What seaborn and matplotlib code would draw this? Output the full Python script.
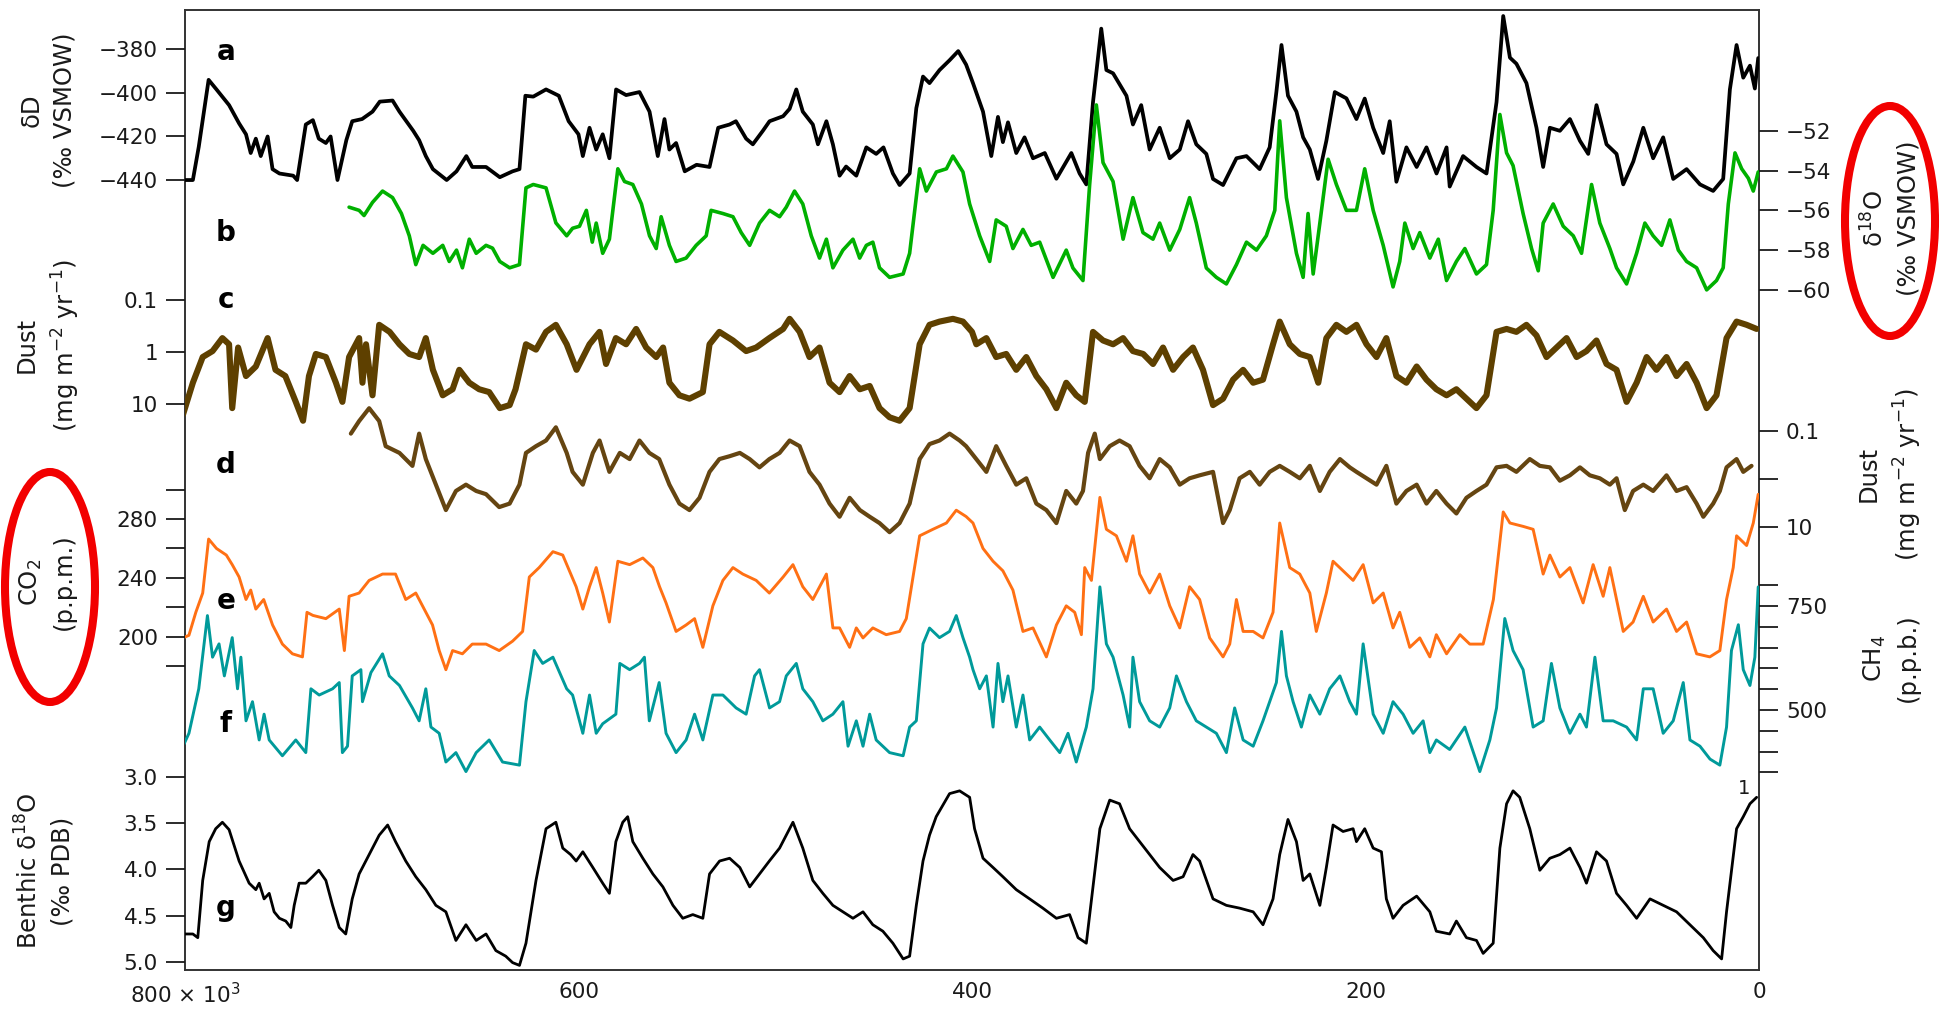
import matplotlib
matplotlib.use("Agg")
import matplotlib.pyplot as plt
from matplotlib.patches import Ellipse
from matplotlib.ticker import NullLocator
import pandas as pd
import seaborn as sns

# ---------------- data (age in kyr before present) ----------------
# a: EPICA Dome C deuterium (per mil VSMOW)
dD_age = [800, 796, 793, 788, 784, 777.6, 772.5, 769, 766.6, 764, 761.5, 758, 755.5, 752, 745, 743,
          738.6, 735, 732, 728.4, 726, 722.5, 718, 715, 710, 704.7, 701, 694.5, 691, 684, 681, 677.6,
          674, 667, 662, 657, 654, 647, 640, 633.5, 630, 627, 623, 616.5, 610, 605, 600, 597.8, 594.4,
          591, 587.7, 584.3, 580.9, 575.8, 569, 563.9, 559.7, 556.3, 553.8, 550.4, 546, 540, 533.4, 529,
          523.2, 520, 514.8, 511.4, 506.3, 502.9, 496, 492.7, 489.3, 486, 480.9, 478.3, 474, 470.7,
          467.3, 464, 458.8, 453.7, 448.7, 445, 440.2, 436.8, 431.7, 428.3, 424.9, 421.6, 416.5, 411.4,
          407, 403, 399.5, 394.4, 390.2, 386.8, 384.3, 381.7, 377.5, 373.3, 369, 363, 357.1, 349.5,
          345.3, 341.9, 338.5, 334.3, 331.7, 328.3, 321.5, 318.2, 314, 309.7, 304.6, 299.5, 294.4,
          290.2, 286, 280.9, 277.5, 272.4, 265.6, 260.5, 253.8, 248.7, 245.3, 242.7, 239.4, 235.1,
          231.7, 228.3, 224.1, 219.9, 215.6, 209.7, 204.6, 200.4, 196.1, 191, 187.7, 184.3, 179.2, 174,
          169, 163.9, 158.8, 157.2, 150.4, 143.6, 138.5, 133.4, 130, 126.6, 123.3, 118.2, 113.1, 109.7,
          106.3, 101.2, 96.1, 91, 86.8, 82.6, 77.5, 72.4, 69, 63.9, 58.8, 53.8, 48.7, 43.6, 36.8, 30,
          23.3, 18.2, 14.8, 11.4, 8, 4.6, 2.1, 0.4]
dD = [-440, -440, -424.7, -394, -398.4, -405.6, -414, -419, -427.6, -421, -429, -420, -435, -437, -438, -440,
      -414.5, -412.5, -421, -423, -420, -440, -421.7, -413, -412, -408.6, -404, -403.5, -408.6, -417.4, -421.7, -429,
      -435, -440, -436, -429, -434, -434, -438.7, -436, -435, -401.3, -401.7, -398.4, -401.3, -413, -419, -429, -416,
      -426, -419, -430, -398.4, -401, -399.6, -408.6, -429, -412, -426, -423, -436, -433, -434, -416,
      -414.5, -413, -421, -423.6, -417.4, -413, -410.7, -407.3, -398.4, -408.6, -414.5, -423.6, -413, -423.6,
      -438, -433.8, -438, -425, -428, -425, -437, -442.3, -437, -407, -392.5, -395.5, -389.5, -385,
      -380.8, -387, -395.5, -408.6, -429, -411, -422.6, -413.5, -427.6, -420.4, -430, -427.6, -439.4, -427.6,
      -437, -442, -404.2, -370.5, -389.5, -391, -401.3, -414.5, -405.6, -426, -416, -430, -426,
      -413, -423.6, -428, -439.5, -442.3, -430, -429, -435, -425, -399.6, -378, -401.3, -408.6,
      -420.4, -426, -439.5, -422, -399.6, -402.5, -412, -402.6, -416, -427.6, -413, -440.8, -425, -434,
      -425, -437, -425, -443, -429, -434, -437, -404.2, -364.7, -383.8, -386.6, -395.5, -416, -434,
      -416, -417.4, -412, -422, -428, -405.6, -423.6, -428, -442, -431.5, -416, -430, -420.4, -439.5, -435, -442,
      -445, -439.5, -398.4, -378, -393, -387.5, -398, -384]

# b: EPICA Dome C oxygen isotopes (per mil VSMOW)
d18O_age = [716.6, 711.5, 709, 704.7, 699.6, 694.5, 690, 686, 682.7, 679, 674, 669, 665.7, 662, 659, 655.5,
            652, 647, 643.7, 640, 635, 630, 626.7, 623, 616.5, 611.5, 606, 603, 599.5, 596, 593, 591, 587.7,
            584.3, 580, 576.6, 572.4, 568, 563.9, 560.5, 558, 553.8, 550.4, 545.3, 540.2, 535.1, 532.6, 526.6,
            521.5, 517.3, 513, 508, 502.9, 497.8, 494.4, 490.2, 486, 481.7, 477.5, 474, 470.7, 465.6, 460.5,
            457.1, 453.7, 450.4, 447, 441.9, 435, 431.7, 426.6, 423.2, 418.1, 413, 409.7, 404.6, 401.2, 396.1,
            391, 387.7, 382.6, 379.2, 374.1, 369.9, 365.6, 358.8, 352.1, 348.7, 343.6, 340.2, 336.8, 333.4,
            328.3, 323.2, 318.2, 313.1, 308, 304.6, 299.5, 294.4, 289.4, 286, 280.9, 275.8, 270.7, 265.6,
            260.5, 255.4, 250.4, 246.1, 243.6, 240.2, 235.1, 231.7, 229.2, 226.6, 223.2, 219, 214.8, 209.7,
            204.6, 200.4, 196.1, 191, 186, 182.6, 180, 175.8, 172.4, 167.3, 163, 158.8, 153.8, 149.5, 143.6,
            138.5, 135.1, 131.7, 128.3, 125, 119.9, 115.6, 112.2, 109.7, 104.6, 99.5, 94.4, 90.2, 85.1, 80.9,
            75.8, 72.4, 67.3, 62.2, 58, 53.8, 49.5, 45.3, 41, 36.8, 31.7, 26.6, 21.6, 18.2, 15.6, 12.2, 8.8,
            5.4, 2.9, 0.4]
d18O = [-55.84, -56.0, -56.26, -55.6, -55.03, -55.36, -56.16, -57.28, -58.73, -57.76, -58.16, -57.76, -58.57, -58.0, -58.89, -57.45,
        -58.16, -57.76, -57.9, -58.57, -58.89, -58.73, -54.87, -54.7, -54.87, -56.63, -57.28, -56.9, -56.8, -56.0, -57.6, -56.64, -58.16,
        -57.45, -53.91, -54.55, -54.7, -55.68, -57.28, -57.92, -56.32, -57.76, -58.57, -58.4, -57.76, -57.28, -56.0, -56.16,
        -56.32, -57.12, -57.76, -56.64, -56.0, -56.32, -55.84, -55.03, -55.68, -57.28, -58.4, -57.45, -58.89, -58.0, -57.45,
        -58.4, -57.76, -57.6, -58.89, -59.37, -59.2, -58.16, -53.91, -55.03, -54.07, -53.91, -53.27, -54.07, -55.68, -57.28,
        -58.57, -56.48, -56.8, -57.92, -56.96, -57.76, -57.6, -59.37, -58.0, -58.9, -59.53, -54.7, -50.7, -53.6,
        -54.55, -57.45, -55.36, -57.12, -57.45, -56.64, -58.0, -56.96, -55.36, -56.64, -58.9, -59.37, -59.7, -58.73,
        -57.6, -58.0, -57.28, -56.0, -51.5, -55.36, -58.16, -59.37, -56.16, -59.2, -56.64, -53.43, -54.7, -56.0,
        -56.0, -53.91, -56.0, -57.76, -59.85, -58.57, -56.64, -57.92, -57.12, -58.4, -57.45, -59.53, -58.57, -57.92, -59.2,
        -58.73, -56.0, -51.18, -53.11, -53.75, -56.16, -57.92, -59.04, -56.64, -55.68, -56.8, -57.28, -58.16, -54.7, -56.64,
        -57.92, -58.89, -59.7, -58.16, -56.64, -57.28, -57.76, -56.48, -58.0, -58.57, -58.89, -60.0, -59.53, -58.89, -55.68, -53.11, -53.91,
        -54.39, -55.03, -54.07]

# c: dust flux, full record (mg m-2 yr-1)
dustc_age = [801, 796, 791, 786, 781, 777.6, 776, 773, 769, 764, 758, 754, 749, 743.7, 740, 737, 733.5,
             728.4, 723.3, 720, 716.6, 711.5, 709.8, 708, 704.7, 701.3, 696, 691, 686, 681, 677.6, 674, 669,
             664, 660.6, 655.5, 650.5, 645.4, 640, 635, 632, 626.7, 621.6, 616.5, 611.5, 606, 601, 594.4,
             589.3, 586, 581, 575.8, 570.7, 565.6, 560.5, 557, 553.8, 548.7, 543.6, 536.8, 533.4, 528.4,
             521.5, 514.8, 509.7, 503, 496, 492.7, 487.6, 482.6, 477.5, 472.4, 467.3, 462.2, 457, 452, 447,
             441.9, 436.8, 431.7, 426.6, 421.6, 416.5, 409.7, 404.6, 400, 397.8, 392.7, 387.7, 382.6, 377.5,
             372.4, 367.3, 362.2, 357.1, 352.1, 347, 342.7, 338.5, 333.4, 328.3, 323.2, 318.2, 313, 308,
             302.9, 297.8, 292.7, 287.7, 282.6, 277.5, 272.4, 267.3, 262.2, 257.1, 252.1, 247, 243.6, 238.5,
             233.4, 228.3, 224, 219.9, 214.8, 209.7, 204.6, 199.5, 194.4, 189.4, 184.3, 179.2, 174, 169,
             164, 158.8, 153.8, 148.7, 143.6, 138.5, 133.4, 128.3, 123.3, 118.2, 113.1, 108, 102.9, 97.8,
             92.7, 87.7, 82.6, 77.5, 72.4, 67.3, 62.2, 57.1, 52.1, 47, 41.9, 36.8, 31.7, 26.6, 21.6, 16.5,
             11.4, 6.3, 1.2]
dustc = [15.9, 3.9, 1.25, 0.96, 0.54, 0.71, 12, 0.82, 2.9, 1.9, 0.54, 2.2, 2.9, 9.1, 21, 2.9, 1.09,
         1.25, 3.9, 9.1, 1.25, 0.54, 3.9, 0.71, 6.8, 0.30, 0.41, 0.71, 1.09, 1.25, 0.54, 2.2, 6.8,
         5.2, 2.2, 3.9, 5.2, 5.9, 12, 10.5, 5.2, 0.71, 0.9, 0.41, 0.30, 0.71, 2.2, 0.71,
         0.41, 1.7, 0.54, 0.71, 0.36, 0.82, 1.25, 0.82, 3.9, 6.8, 7.9, 5.9, 0.71, 0.41,
         0.6, 0.96, 0.82, 0.54, 0.36, 0.23, 0.41, 1.25, 0.82, 3.9, 5.9, 2.9, 5.2, 4.5, 12,
         18, 21, 12, 0.71, 0.30, 0.26, 0.23, 0.26, 0.41, 0.71, 0.54, 1.25, 1.09, 2.2,
         1.25, 2.9, 5.2, 12, 3.9, 6.8, 9.1, 0.41, 0.6, 0.71, 0.54, 0.96, 1.09, 1.7,
         0.82, 2.2, 1.25, 0.82, 2.2, 10.5, 7.9, 3.4, 2.2, 3.9, 3.4, 0.71, 0.26, 0.71,
         1.09, 1.25, 3.9, 0.54, 0.30, 0.41, 0.30, 0.71, 1.25, 0.54, 2.9, 3.9, 1.9, 3.4,
         5.2, 6.8, 5.2, 7.9, 12, 6.8, 0.41, 0.36, 0.41, 0.30, 0.48, 1.25, 0.82, 0.54,
         1.25, 0.96, 0.6, 1.7, 2.2, 9.1, 3.9, 1.25, 2.2, 1.25, 2.9, 1.7, 3.9, 12, 6.8, 0.54,
         0.26, 0.30, 0.36]

# d: dust flux, second record (mg m-2 yr-1)
dustd_age = [715.7, 711.5, 706.4, 701.3, 698, 691, 684.4, 681, 677.6, 672.5, 667.4, 662.3, 657.2, 652, 647,
             640.3, 635, 630, 626.7, 621.6, 616.5, 611.5, 606, 603, 597.8, 592.7, 589.3, 584.3, 579, 574,
             569, 564, 559, 553.8, 548.7, 543.6, 538.5, 533.4, 528.4, 523.2, 518, 513, 508, 503, 497.8,
             492.7, 487.6, 482.6, 477.5, 472.4, 467.3, 462.2, 457, 452, 447, 441.9, 436.8, 431.7, 426.6,
             421.6, 416.5, 411.4, 406.3, 403, 397.8, 392.7, 387.7, 382.6, 377.5, 372.4, 367.3, 362.2, 357.1,
             352.1, 347, 343.6, 341, 337.6, 335, 330, 325, 319.9, 314.8, 309.7, 304.6, 299.5, 294.4, 289.4,
             284.3, 277.5, 272.4, 269, 264, 258.8, 253.8, 248.7, 243.6, 238.5, 233.4, 228.3, 223.2, 218.2,
             213, 208, 204.6, 199.5, 194.4, 189.4, 184.3, 179.2, 174, 169, 164, 158.8, 153.8, 148.7, 143.6,
             138.5, 133.4, 128.3, 123.3, 116.5, 111.4, 106.3, 101.2, 96.1, 91, 86, 80.9, 75.8, 72.4, 68.2,
             64, 58.8, 53.8, 47, 41.9, 36.8, 31.7, 28.3, 23.3, 19.9, 16.5, 11.4, 8, 3.8]
dustd = [0.115, 0.063, 0.034, 0.063, 0.21, 0.29, 0.54, 0.115, 0.39, 1.33, 4.5, 1.8, 1.33, 1.8, 2.1,
         3.9, 3.3, 1.33, 0.29, 0.21, 0.16, 0.085, 0.29, 0.72, 1.33, 0.29, 0.16, 0.72, 0.29, 0.39,
         0.16, 0.29, 0.39, 1.33, 3.3, 4.5, 2.5, 0.72, 0.39, 0.34, 0.29, 0.39, 0.58, 0.39, 0.29,
         0.16, 0.21, 0.72, 1.33, 3.3, 6.2, 2.5, 4.5, 6.2, 8.4, 13, 8.4, 3.3, 0.39,
         0.19, 0.16, 0.115, 0.16, 0.21, 0.39, 0.72, 0.21, 0.54, 1.33, 0.98, 3.3, 4.5, 8.4,
         1.8, 3.3, 1.8, 0.29, 0.115, 0.39, 0.21, 0.16, 0.21, 0.54, 0.98, 0.39, 0.58, 1.33, 0.98,
         0.85, 0.72, 8.4, 4.5, 0.98, 0.72, 1.33, 0.72, 0.54, 0.72, 0.98, 0.54, 1.8, 0.72,
         0.39, 0.58, 0.72, 0.98, 1.33, 0.54, 3.3, 1.8, 1.33, 3.3, 1.8, 3.3, 5.3, 2.5, 1.8,
         1.33, 0.58, 0.54, 0.72, 0.39, 0.54, 0.58, 1.1, 0.85, 0.58, 0.85, 0.98, 1.33, 0.98, 4.5,
         1.8, 1.33, 1.8, 0.85, 1.8, 1.5, 3.3, 6.2, 3.3, 1.8, 0.58, 0.39, 0.72, 0.54]

# e: CO2 (p.p.m.)
co2_age = [801, 798, 794.5, 791, 788, 784, 779, 776, 772.5, 769, 766.6, 764, 760, 755.5, 750.5, 745.4,
           740.3, 738, 735, 728.4, 721.6, 719, 716.6, 711.5, 706.4, 699.6, 693, 687.8, 682.7, 679.3, 674.2,
           670.8, 667.4, 664, 659, 654, 647, 640.3, 633.5, 628.4, 625, 620, 613, 608, 601.2, 597.8, 594.4,
           591, 587.7, 584.3, 580, 574, 567.3, 562.2, 558.8, 555.5, 550.4, 545.3, 541, 536.8, 531.7, 526.6,
           521.5, 516.5, 509.7, 503, 496, 491, 486, 480.9, 474, 470.7, 467.3, 462.2, 458.8, 455.4, 450.4,
           443.6, 436.8, 433.4, 430, 426.6, 419.9, 413, 408, 403, 399.5, 394.4, 389.3, 384.3, 379.2, 374.1,
           369, 362.2, 357.1, 352.1, 347.8, 344.4, 342.7, 339.3, 335, 331.7, 326.6, 321.5, 318.2, 314.8,
           309.7, 304.6, 299.5, 294.4, 289.4, 284.3, 279.2, 272.4, 269, 265.6, 262.2, 257.1, 252.1, 247,
           243.6, 238.5, 233.4, 228.3, 225, 219.9, 216.5, 211.4, 206.3, 201.2, 196.1, 191, 186, 182.6,
           177.5, 172.4, 167.3, 164, 158.8, 152, 147, 140.2, 135, 130, 126.6, 119.9, 114.8, 109.7, 106.3,
           101.2, 96.1, 89.4, 84.3, 79.2, 75.8, 69, 64, 58.8, 53.8, 47, 41.9, 36.8, 31.7, 25, 19.9, 16.5,
           13.1, 11.4, 6.3, 2.9, 0.4]
co2 = [199.2, 201, 216.6, 229.7, 266.4, 260, 255.5, 249, 240.6, 225.3, 231.7, 218.8, 225.3, 208, 195, 188.4,
       186.3, 216.6, 214.5, 212.3, 218.8, 190.6, 227.5, 229.7, 238.3, 242.6, 242.6, 225.3, 229.7, 221, 208,
       190.6, 177.6, 190.6, 188.4, 195, 195, 190.6, 197, 203.6, 240.6, 247, 257.8, 255.5, 234, 218.8, 234,
       247, 229.7, 210, 251.3, 249, 253.5, 247, 234, 223, 203.6, 208, 212.3, 192.8, 221, 238.3,
       247, 242.6, 238.3, 229.7, 240.6, 249, 234, 225.3, 242.6, 206, 206, 192.8, 206, 199.2, 206,
       201.4, 203.6, 212.3, 240.6, 268.6, 273, 277.3, 286, 281.7, 277.3, 260, 251.3, 244.8, 231.7, 203.6,
       206, 186.3, 208, 221, 216.6, 201.4, 247, 238.3, 294.7, 273, 268.6, 251.3, 268.6, 242.6,
       229.7, 242.6, 221, 206, 234, 225.3, 199.2, 186.3, 195, 225.3, 203.6, 203.6, 199.2, 216.6,
       277.3, 247, 242.6, 229.7, 203.6, 229.7, 251.3, 244.8, 238.3, 249, 223, 229.7, 206, 216.6,
       192.8, 199.2, 186.3, 201.4, 188.4, 201.4, 195, 195, 225.3, 284.8, 277.3, 275, 273, 242.6, 255.5,
       240.6, 247, 223, 249, 227.5, 247, 203.6, 210, 227.5, 210, 218.8, 203.6, 210, 188.4, 186.3, 190.6, 225.3,
       247, 268.6, 262, 277.3, 296.8]

# f: CH4 (p.p.b.)
ch4_age = [801, 798, 793, 788.6, 786, 782.7, 780, 776, 773.3, 771.6, 769, 765.7, 762.3, 759.8, 757.2, 750.5,
           743.7, 738.6, 736, 731.8, 725, 721.6, 720, 717.4, 715, 710.6, 709.8, 705.5, 699.6, 696.2, 691,
           684.4, 681, 677.6, 675, 670.8, 667.4, 662.3, 657.2, 652, 645.4, 638.6, 630, 626.7, 622.5, 618.2,
           613, 606, 603, 597.8, 594.4, 591, 587.7, 581, 579, 574, 569, 566.5, 564, 559, 555.5, 550.4,
           545.3, 541, 536.8, 531.7, 526.6, 519.9, 514.8, 510.5, 508, 502.9, 497.8, 494.4, 489.3, 486,
           480.9, 475.8, 470.7, 465.6, 463, 458.8, 455.4, 452, 448.7, 441.9, 435, 431.7, 428.3, 424.9,
           421.6, 416.5, 411.4, 408, 404.6, 401.2, 399.5, 396.1, 392.7, 389.3, 386.8, 384.3, 381.7, 377.5,
           374.1, 370.7, 365.6, 360.5, 355.4, 351.2, 347, 341.9, 338.5, 335, 331.7, 328.3, 323.2, 319.9,
           318.2, 314.8, 309.7, 304.6, 299.5, 296.1, 291, 286, 280.9, 275.8, 270.7, 266.5, 262.2, 257.1,
           252.1, 248.7, 245.3, 242.7, 240.2, 236.8, 232.6, 228.3, 223.2, 218.2, 213, 208, 204.6, 201.2,
           196.1, 191, 186, 180.9, 175.8, 170.7, 167.3, 164, 157.2, 149.5, 141.9, 136.8, 133.4, 129.2,
           125, 119.9, 114.8, 109.7, 105.5, 101.2, 96.1, 91, 87.7, 83.4, 79.2, 74.1, 67.3, 62.2, 58.8,
           53.8, 48.7, 43.6, 38.5, 35.1, 30, 24.9, 19.9, 16.5, 14, 10.5, 8, 4.6, 2.1, 0.4]
ch4 = [413, 444, 551, 727, 627, 659, 582, 674, 551, 627, 474, 520, 428, 490, 428, 390,
       428, 397.6, 551, 536, 551, 566, 397.6, 413, 582, 597, 520, 590, 635, 582, 559,
       505, 474, 551, 459, 444, 375, 397.6, 352, 397.6, 428, 375, 367.5, 520, 643, 612,
       627, 551, 536, 444, 536, 444, 467, 490, 612, 597, 612, 627, 474, 566, 444, 397.6,
       428, 490, 428, 536, 536, 505, 490, 582, 597, 505, 520, 582, 612, 551,
       520, 474, 490, 520, 413, 474, 413, 490, 428, 397.6, 390, 459, 474, 659,
       697, 674, 689, 727, 674, 627, 597, 551, 582, 459, 612, 520, 582, 459,
       536, 428, 459, 428, 397.6, 444, 375, 459, 551, 796, 659, 627, 536, 459,
       627, 520, 474, 459, 505, 582, 520, 474, 459, 444, 397.6, 505, 428, 413,
       474, 520, 566, 689, 582, 520, 459, 536, 490, 551, 582, 520, 490, 659,
       490, 444, 520, 490, 444, 474, 397.6, 428, 405, 459, 352, 428, 505, 720,
       643, 597, 459, 474, 612, 505, 444, 490, 459, 627, 474, 474, 459, 428, 551,
       551, 444, 474, 566, 428, 413, 382, 367.5, 459, 643, 705, 597, 559, 627, 796]

# g: benthic stack delta-18O (per mil PDB)
benth_age = [801, 796, 793.5, 791, 787.7, 784.4, 781, 777.6, 772.5, 767.4, 764, 762.3, 759.8, 757.2, 754.7,
             752, 748.8, 746.2, 744.5, 742, 738.6, 735.2, 732, 728.4, 725, 721.6, 718.3, 715, 711.5, 706.4,
             701.3, 697, 693, 687.8, 682.7, 677.6, 672.5, 667.4, 662.3, 657.2, 652, 647, 642, 637, 633.5,
             630, 626.7, 621.6, 616.5, 611.5, 608, 604, 601.2, 597.8, 592.7, 587.7, 584.3, 581, 577.5, 575,
             572.4, 567.3, 562.2, 557.1, 552, 547, 541.9, 536.8, 533.4, 528.3, 523.2, 518, 513, 508, 503,
             497.8, 492.7, 491, 486, 480.9, 475.8, 470.7, 465.6, 460.5, 455.4, 450.4, 445.3, 440.2, 435,
             431.7, 428.3, 424.9, 421.6, 418.2, 411.4, 406.3, 401.2, 398.7, 394.4, 389.3, 384.3, 377.5, 370.7,
             364, 357.1, 350.4, 346.1, 341.9, 338.5, 335, 330, 325, 319.9, 314.8, 309.7, 304.6, 297.8, 292.7,
             287.7, 284.3, 277.5, 270.7, 264, 257.1, 252.1, 247, 243.6, 239.4, 235.1, 231.7, 228.3, 223.2,
             219.9, 216.5, 211.4, 206.3, 204.6, 200.4, 196.1, 191.9, 189.4, 186, 180.9, 174, 167.3, 164,
             157.2, 153.8, 148.7, 143.6, 140.2, 135.1, 131.7, 128.3, 125, 121.6, 116.5, 111.4, 106.3, 101.2,
             96.1, 91, 87.7, 82.6, 77.5, 72.4, 67.3, 62.2, 55.4, 48.7, 41.9, 35.1, 28.3, 23.3, 19, 16.5,
             11.4, 8, 4.6, 1.2]
benth = [4.70, 4.70, 4.74, 4.12, 3.70, 3.56, 3.49, 3.57, 3.91, 4.15, 4.22, 4.15, 4.32, 4.26, 4.46,
         4.53, 4.56, 4.63, 4.39, 4.15, 4.15, 4.08, 4.01, 4.12, 4.39, 4.63, 4.70, 4.32, 4.05, 3.84,
         3.63, 3.52, 3.70, 3.91, 4.08, 4.22, 4.39, 4.46, 4.77, 4.60, 4.77, 4.70, 4.88, 4.94, 5.01,
         5.04, 4.80, 4.12, 3.56, 3.49, 3.77, 3.84, 3.91, 3.81, 3.98, 4.15, 4.26, 3.70, 3.49, 3.43,
         3.70, 3.88, 4.05, 4.19, 4.39, 4.53, 4.49, 4.53, 4.05, 3.91, 3.88, 3.98, 4.19, 4.05, 3.91,
         3.77, 3.56, 3.49, 3.77, 4.12, 4.26, 4.39, 4.46, 4.53, 4.46, 4.60, 4.67, 4.80, 4.97,
         4.94, 4.39, 3.91, 3.63, 3.43, 3.18, 3.15, 3.22, 3.56, 3.88, 3.98, 4.08, 4.22, 4.32,
         4.42, 4.53, 4.49, 4.74, 4.80, 4.19, 3.56, 3.25, 3.29, 3.56, 3.70, 3.84, 3.98, 4.12, 4.08,
         3.84, 3.91, 4.32, 4.39, 4.42, 4.46, 4.60, 4.32, 3.84, 3.46, 3.70, 4.12, 4.05, 4.39,
         3.98, 3.52, 3.59, 3.56, 3.70, 3.56, 3.77, 3.81, 4.32, 4.53, 4.39, 4.29, 4.46, 4.67,
         4.70, 4.56, 4.74, 4.77, 4.91, 4.80, 3.77, 3.29, 3.15, 3.22, 3.56, 4.01, 3.88, 3.84,
         3.77, 3.98, 4.15, 3.81, 3.91, 4.26, 4.39, 4.53, 4.32, 4.39, 4.46, 4.60, 4.74, 4.88, 4.97, 4.46,
         3.56, 3.43, 3.29, 3.22]

# x-axis ticks
age_ticks = [800, 600, 400, 200, 0]
age_labels = ["800 \u00d7 10$^3$", "600", "400", "200", "0"]

# ---------------- styling ----------------
sns.set_theme(style="white")
plt.rcParams["font.family"] = ["DejaVu Sans"]
plt.rcParams["mathtext.default"] = "regular"
plt.rcParams["axes.unicode_minus"] = True

INK = "#1a1a1a"
TICK_FS = 15.5
LABEL_FS = 17.5

W, H = 1946, 1010
fig = plt.figure(figsize=(W / 100, H / 100), dpi=100)
rect = [185 / W, 1 - 970 / H, (1759 - 185) / W, (970 - 9.5) / H]

base = fig.add_axes(rect)
base.set_facecolor("white")
for sp in base.spines.values():
    sp.set_linewidth(1.4)
    sp.set_color("#333333")
base.set_yticks([])
base.tick_params(axis="x", direction="in", length=14, width=1.3, pad=9,
                 labelsize=TICK_FS, colors=INK)


def overlay(side, ylim, ticks, labels, log=False):
    ax = fig.add_axes(rect, sharex=base)
    ax.patch.set_visible(False)
    for sp in ax.spines.values():
        sp.set_visible(False)
    if log:
        ax.set_yscale("log")
    ax.set_ylim(*ylim)
    ax.set_yticks(ticks, labels=labels)
    ax.yaxis.set_minor_locator(NullLocator())
    ax.tick_params(axis="x", bottom=False, top=False, labelbottom=False, labeltop=False)
    if side == "right":
        ax.yaxis.tick_right()
    else:
        ax.yaxis.tick_left()
    ax.tick_params(axis="y", direction="out", length=13.5, width=1.3, pad=6,
                   labelsize=TICK_FS, colors=INK)
    return ax


def draw(ax, age, vals, color, lw):
    df = pd.DataFrame({"age": age, "value": vals})
    sns.lineplot(data=df, x="age", y="value", ax=ax, color=color, linewidth=lw,
                 estimator=None, sort=False)
    ax.set_xlabel("")
    ax.set_ylabel("")


M = "\u2212"
ax_a = overlay("left", (-802.7, -361.7), [-380, -400, -420, -440],
               [M + "380", M + "400", M + "420", M + "440"])
draw(ax_a, dD_age, dD, "black", 2.7)

ax_b = overlay("right", (-94.2, -45.9), [-52, -54, -56, -58, -60],
               [M + "52", M + "54", M + "56", M + "58", M + "60"])
draw(ax_b, d18O_age, d18O, "#00b000", 2.6)

ax_c = overlay("left", (10 ** 11.885, 10 ** -6.587), [0.1, 1, 10], ["0.1", "1", "10"], log=True)
draw(ax_c, dustc_age, dustc, "#5e4000", 4.4)

ax_d = overlay("right", (10 ** 10.235, 10 ** -9.775), [0.1, 1, 10], ["0.1", "", "10"], log=True)
draw(ax_d, dustd_age, dustd, "#654511", 3.0)

ax_e = overlay("left", (-26.5, 626.3), [180, 200, 220, 240, 260, 280, 300],
               ["", "200", "", "240", "", "280", ""])
draw(ax_e, co2_age, co2, "#ff7014", 2.1)

ax_f = overlay("right", (-125, 2184), [350, 400, 450, 500, 550, 600, 650, 700, 750, 800],
               ["", "", "", "500", "", "", "", "", "750", ""])
draw(ax_f, ch4_age, ch4, "#009a9a", 2.1)

ax_g = overlay("left", (5.09, -5.311), [3.0, 3.5, 4.0, 4.5, 5.0],
               ["3.0", "3.5", "4.0", "4.5", "5.0"])
draw(ax_g, benth_age, benth, "black", 2.0)

base.set_xlim(800, 0)
base.set_xticks(age_ticks, labels=age_labels)


def fx(px):
    return px / W


def fy(py):
    return 1 - py / H


# panel letters
for letter, py in zip("abcdefg", [52, 233, 300, 465, 601, 724, 908]):
    fig.text(fx(226), fy(py), letter, ha="center", va="center", fontsize=20,
             fontweight="bold", color="black")

# footnote marker on the benthic record
fig.text(fx(1744), fy(789), "1", ha="center", va="center", fontsize=14, color=INK)

# axis titles
ylabels = [
    (48, 110, "\u03b4D\n(\u2030 VSMOW)"),
    (48, 345, "Dust\n(mg m$^{-2}$ yr$^{-1}$)"),
    (47, 582, "CO$_2$\n(p.p.m.)"),
    (45, 871, "Benthic \u03b4$^{18}$O\n(\u2030 PDB)"),
    (1891, 218, "\u03b4$^{18}$O\n(\u2030 VSMOW)"),
    (1890, 474, "Dust\n(mg m$^{-2}$ yr$^{-1}$)"),
    (1891, 658, "CH$_4$\n(p.p.b.)"),
]
for px, py, txt in ylabels:
    fig.text(fx(px), fy(py), txt, rotation=90, ha="center", va="center",
             multialignment="center", linespacing=1.45, fontsize=LABEL_FS, color=INK)

# highlight rings
for cx, cy in [(1890, 221), (50, 587)]:
    fig.add_artist(Ellipse((fx(cx), fy(cy)), 90 / W, 230 / H, transform=fig.transFigure,
                           fill=False, edgecolor="#f20000", linewidth=5.8, zorder=10))

fig.savefig("out.png", dpi=100)
